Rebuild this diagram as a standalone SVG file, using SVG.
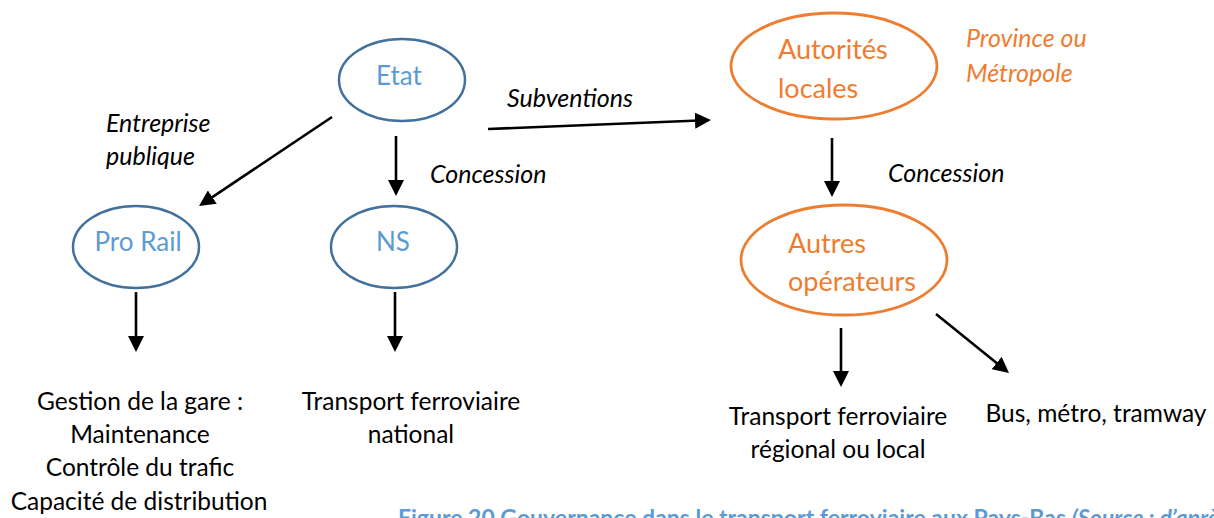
<svg xmlns="http://www.w3.org/2000/svg" width="1214" height="518" viewBox="0 0 1214 518">
<defs>
<marker id="ah" viewBox="0 0 16 16" refX="4" refY="8" markerWidth="16" markerHeight="16" markerUnits="userSpaceOnUse" orient="auto">
<path d="M0,0 L16,8 L0,16 z" fill="#000"/>
</marker>
<style>
.blue{fill:none;stroke:#41719C;stroke-width:2.5}
.orange{fill:none;stroke:#ED7D31;stroke-width:2.8}
.bt{font-family:Lato,"Liberation Sans",sans-serif;font-size:26px;fill:#5B9BD5}
.ot{font-family:Lato,"Liberation Sans",sans-serif;font-size:27px;fill:#ED7D31}
.oi{font-family:Lato,"Liberation Sans",sans-serif;font-size:25px;font-style:italic;fill:#ED7D31}
.lbl{font-family:Lato,"Liberation Sans",sans-serif;font-size:25px;font-style:italic;fill:#000}
.body{font-family:Lato,"Liberation Sans",sans-serif;font-size:24.5px;fill:#000}
.cap{font-family:Lato,"Liberation Sans",sans-serif;font-size:23px;font-weight:bold;fill:#5B9BD5}
.arr{stroke:#000;stroke-width:2.6;fill:none;marker-end:url(#ah)}
</style>
</defs>
<rect width="1214" height="518" fill="#fff"/>
<g id="etat"><ellipse class="blue" cx="402" cy="80" rx="63" ry="41"/><text class="bt" x="399" y="85" text-anchor="middle">Etat</text></g>
<g id="prorail"><ellipse class="blue" cx="136" cy="247" rx="63" ry="41"/><text class="bt" x="138" y="251" text-anchor="middle">Pro Rail</text></g>
<g id="ns"><ellipse class="blue" cx="394" cy="247" rx="63" ry="41"/><text class="bt" x="393" y="251" text-anchor="middle">NS</text></g>
<g id="autorites"><ellipse class="orange" cx="834" cy="66" rx="103" ry="53"/><text class="ot" x="778" y="59">Autorités</text><text class="ot" x="778" y="98">locales</text></g>
<g id="province"><text class="oi" x="966" y="47">Province ou</text><text class="oi" x="966" y="82">Métropole</text></g>
<g id="autres"><ellipse class="orange" cx="844" cy="260" rx="103" ry="55"/><text class="ot" x="788" y="253">Autres</text><text class="ot" x="788" y="291">opérateurs</text></g>
<g id="gestion"><text class="body" text-anchor="middle"><tspan x="140" y="410">Gestion de la gare :</tspan><tspan x="140" y="443">Maintenance</tspan><tspan x="140" y="476">Contrôle du trafic</tspan><tspan x="139" y="510">Capacité de distribution</tspan></text></g>
<g id="national"><text class="body" text-anchor="middle"><tspan x="411" y="410">Transport ferroviaire</tspan><tspan x="411" y="443">national</tspan></text></g>
<g id="regional"><text class="body" text-anchor="middle"><tspan x="838" y="425">Transport ferroviaire</tspan><tspan x="838" y="458">régional ou local</tspan></text></g>
<g id="bus"><text class="body" x="1096" y="422" text-anchor="middle">Bus, métro, tramway</text></g>
<g id="connectors">
<line class="arr" x1="332" y1="117" x2="209" y2="199.3"/>
<line class="arr" x1="396" y1="136" x2="396" y2="184"/>
<line class="arr" x1="488" y1="129" x2="699" y2="120.5"/>
<line class="arr" x1="832" y1="138" x2="832" y2="185"/>
<line class="arr" x1="136" y1="292" x2="136" y2="340"/>
<line class="arr" x1="395" y1="292" x2="395" y2="340"/>
<line class="arr" x1="841" y1="328" x2="841" y2="375"/>
<line class="arr" x1="936" y1="314" x2="999.7" y2="365.5"/>
</g>
<g id="labels">
<text class="lbl" x="106" y="132">Entreprise</text>
<text class="lbl" x="106" y="165">publique</text>
<text class="lbl" x="430" y="183">Concession</text>
<text class="lbl" x="507" y="107">Subventions</text>
<text class="lbl" x="888" y="182">Concession</text>
</g>
<g id="caption"><text class="cap" x="398" y="526">Figure 20 Gouvernance dans le transport ferroviaire aux Pays-Bas <tspan font-style="italic">(Source : d’après</tspan></text></g>
</svg>
